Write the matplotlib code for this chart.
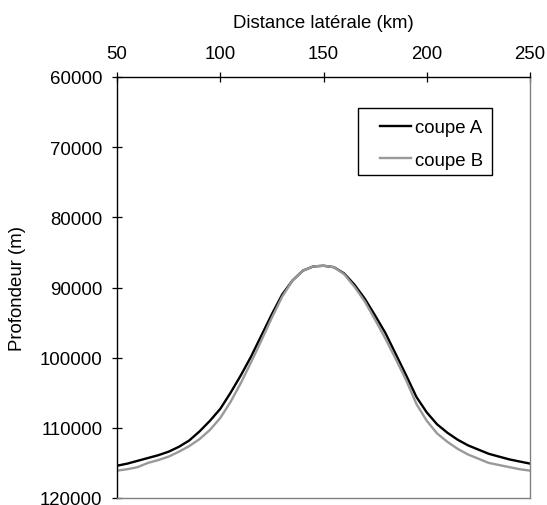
import matplotlib
matplotlib.use("Agg")
import matplotlib.pyplot as plt
from matplotlib.ticker import FixedLocator
from matplotlib.patches import Rectangle

plt.rcParams['font.family'] = ['Liberation Sans', 'DejaVu Sans']

distance_km = [50, 55, 60, 65, 70, 75, 80, 85, 90, 95, 100, 105, 110, 115, 120,
               125, 130, 135, 140, 145, 150, 155, 160, 165, 170, 175, 180, 185,
               190, 195, 200, 205, 210, 215, 220, 225, 230, 235, 240, 245, 250]

coupe_a = [115400, 115100, 114700, 114300, 113900, 113400, 112700, 111800, 110500,
           109000, 107300, 105000, 102500, 99800, 96800, 93800, 91000, 89000, 87600,
           87000, 86900, 87100, 88000, 89600, 91600, 94000, 96500, 99500, 102500,
           105600, 107800, 109500, 110700, 111700, 112500, 113100, 113700, 114100,
           114500, 114800, 115100]

coupe_b = [116100, 115900, 115600, 115000, 114600, 114100, 113400, 112600, 111600,
           110300, 108600, 106300, 103600, 100600, 97500, 94300, 91300, 89000, 87600,
           87000, 86900, 87100, 88100, 89900, 92000, 94600, 97300, 100200, 103200,
           106600, 109000, 110800, 112000, 113000, 113800, 114400, 115000, 115300,
           115600, 115900, 116100]

x_ticks = [50, 100, 150, 200, 250]
y_ticks = [60000, 70000, 80000, 90000, 100000, 110000, 120000]

W, H = 547, 506
FS = 13.4

fig = plt.figure(figsize=(W / 100, H / 100), dpi=100)
ax = fig.add_axes([117 / W, 1 - 499 / H, 413 / W, 421 / H])

ax.plot(distance_km, coupe_a, color='black', lw=1.7, label='coupe A')
ax.plot(distance_km, coupe_b, color='#999999', lw=1.7, label='coupe B')

ax.set_xlim(50, 250)
ax.set_ylim(120000, 60000)
ax.xaxis.set_major_locator(FixedLocator(x_ticks))
ax.yaxis.set_major_locator(FixedLocator(y_ticks))
ax.set_yticklabels([str(v) for v in y_ticks])
ax.set_xticklabels([str(v) for v in x_ticks])

ax.xaxis.tick_top()
ax.xaxis.set_label_position('top')
ax.tick_params(axis='both', direction='inout', length=7, width=0.9, labelsize=FS, color='black')
ax.tick_params(axis='x', pad=7.5)
ax.tick_params(axis='y', pad=7)
ax.set_xlabel('Distance latérale (km)', fontsize=FS, labelpad=13)
ax.set_ylabel('Profondeur (m)', fontsize=FS, labelpad=10)

for side in ['top', 'left']:
    ax.spines[side].set_color('black')
    ax.spines[side].set_linewidth(1.0)
for side in ['bottom', 'right']:
    ax.spines[side].set_color('#808080')
    ax.spines[side].set_linewidth(1.0)

# legend box (frame drawn separately to match the wide left padding)
x0, y0, x1, y1 = 358, 109, 492, 176
fig.patches.append(Rectangle((x0 / W, 1 - y1 / H), (x1 - x0) / W, (y1 - y0) / H,
                             transform=fig.transFigure, fill=True, facecolor='white',
                             edgecolor='black', linewidth=1.0, zorder=5))
leg = fig.legend(*ax.get_legend_handles_labels(), loc='upper left',
                 bbox_to_anchor=(380 / W, 1 - 120 / H),
                 fontsize=FS, frameon=False, handlelength=1.65,
                 handletextpad=0.25, borderpad=0, labelspacing=0.85, borderaxespad=0)
leg.set_zorder(6)

fig.savefig('out.png', dpi=100)
